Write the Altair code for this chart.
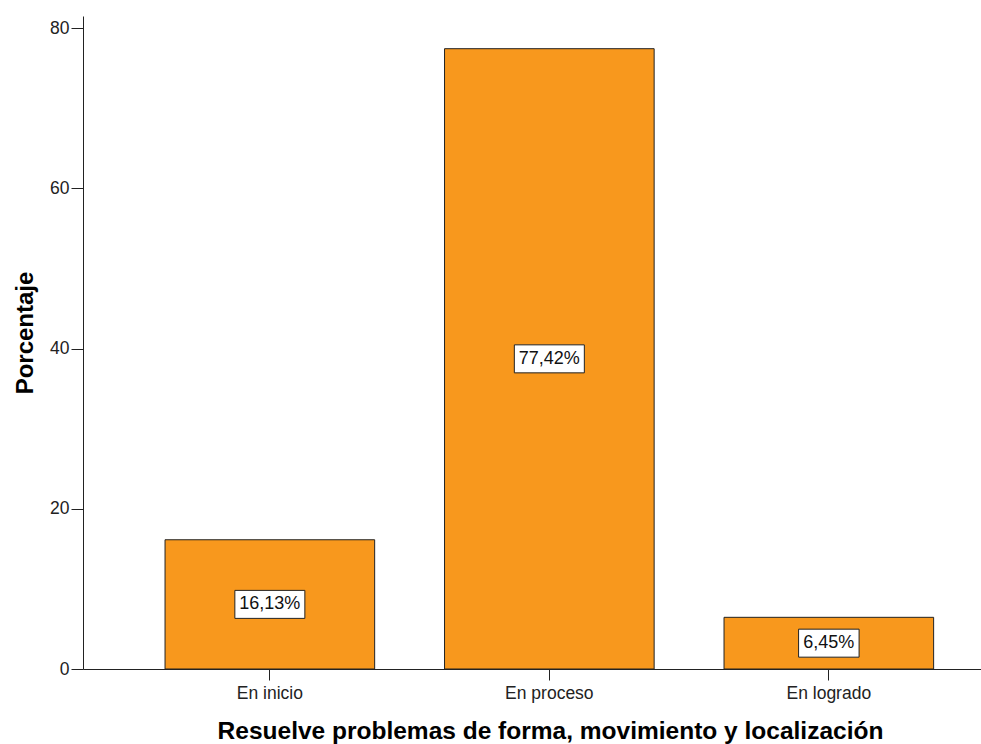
import altair as alt
import pandas as pd

# Categories and percentage of students in each level
categories = ["En inicio", "En proceso", "En logrado"]
percentages = [16.13, 77.42, 6.45]
y_ticks = [0, 20, 40, 60, 80]

df = pd.DataFrame({"nivel": categories, "porcentaje": percentages})

x_enc = alt.X(
    "nivel:N",
    sort=categories,
    title="Resuelve problemas de forma, movimiento y localización",
    scale=alt.Scale(paddingInner=0.25, paddingOuter=0.2315, align=0.634),
    axis=alt.Axis(
        labelAngle=0,
        labelFont="Liberation Sans",
        labelFontSize=17.5,
        labelColor="#222222",
        labelPadding=4,
        tickSize=11,
        tickColor="#222222",
        domainColor="#222222",
        titleFont="Liberation Sans",
        titleFontSize=24.5,
        titleFontWeight="bold",
        titleColor="#000000",
        titleX=467,
        titleY=69,
        titleAlign="center",
        titleBaseline="alphabetic",
    ),
)

y_scale = alt.Scale(domain=[0, 81.5], nice=False)

bars = alt.Chart(df).mark_bar(
    color="#F8981D", stroke="#222222", strokeWidth=1
).encode(
    x=x_enc,
    y=alt.Y(
        "porcentaje:Q",
        title="Porcentaje",
        scale=y_scale,
        axis=alt.Axis(
            values=y_ticks,
            grid=False,
            labelFont="Liberation Sans",
            labelFontSize=17.5,
            labelColor="#222222",
            labelPadding=2,
            tickSize=12,
            tickColor="#222222",
            domainColor="#222222",
            titleFont="Liberation Sans",
            titleFontSize=24,
            titleFontWeight="bold",
            titleColor="#000000",
            titleAngle=270,
            titleX=-50.5,
            titleY=316.5,
            titleAlign="center",
            titleBaseline="alphabetic",
        ),
    ),
)

# Value labels at mid-height of each bar, inside a framed white box
labelled = alt.Chart(df).transform_calculate(
    mid="datum.porcentaje / 2",
    label="replace(format(datum.porcentaje, '.2f'), '.', ',') + '%'",
).transform_calculate(
    boxw="length(datum.label) * 9.5 + 13",
).transform_calculate(
    boxsize="datum.boxw * datum.boxw",
    boxshape="'M-1,' + (-28 / datum.boxw) + 'L1,' + (-28 / datum.boxw) + 'L1,' + (28 / datum.boxw) + 'L-1,' + (28 / datum.boxw) + 'Z'",
)

boxes = labelled.mark_point(
    filled=True, fill="white", stroke="#222222", strokeWidth=1, opacity=1
).encode(
    x=alt.X("nivel:N", sort=categories),
    y=alt.Y("mid:Q", scale=y_scale),
    shape=alt.Shape("boxshape:N", scale=None),
    size=alt.Size("boxsize:Q", scale=None),
)

texts = labelled.mark_text(
    font="Liberation Sans", fontSize=18, color="#111111", baseline="middle", align="center"
).encode(
    x=alt.X("nivel:N", sort=categories),
    y=alt.Y("mid:Q", scale=y_scale),
    text="label:N",
)

chart = alt.layer(bars, boxes, texts).properties(
    width=898,
    height=653,
    padding={"left": 83, "top": 16, "right": 0, "bottom": 75},
    autosize=alt.AutoSizeParams(type="none"),
    background="white",
).configure_view(stroke=None)

chart.save("out.html", embed_options={"renderer": "svg", "actions": False})
